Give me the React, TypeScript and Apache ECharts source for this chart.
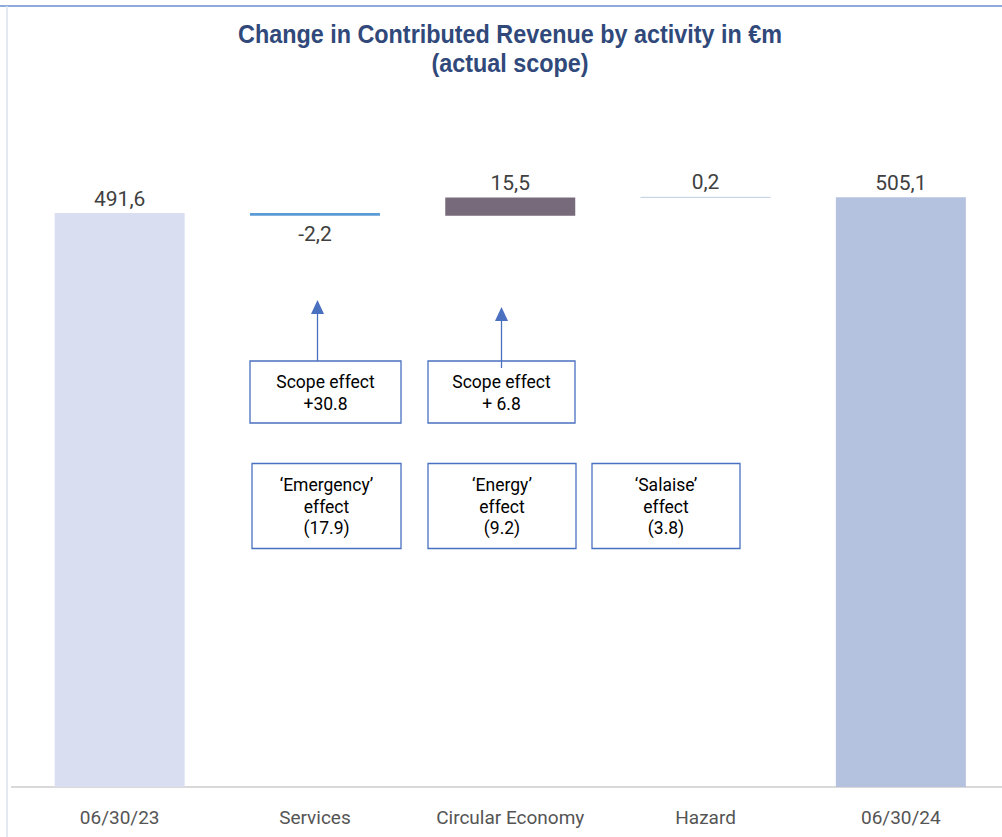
import React, { useEffect, useRef } from "react";
import * as echarts from "echarts";

const categories = ["06/30/23", "Services", "Circular Economy", "Hazard", "06/30/24"];
const deltas = [491.6, -2.2, 15.5, 0.2, 505.1];
const isTotal = [true, false, false, false, true];
const barColors = ["#d9dff0", "#5b9bd5", "#776a7a", "#c9d4e6", "#b4c2e0"];

const titleLines = ["Change in Contributed Revenue by activity in \u20acm", "(actual scope)"];

const scopeBoxes = [
  { lines: ["Scope effect", "+30.8"], x: 250, w: 151, arrowX: 317.5, tipY: 300, lineBottom: 361 },
  { lines: ["Scope effect", "+ 6.8"], x: 428, w: 147, arrowX: 501.5, tipY: 307, lineBottom: 368 },
];
const effectBoxes = [
  { lines: ["\u2018Emergency\u2019", "effect", "(17.9)"], x: 252, w: 149 },
  { lines: ["\u2018Energy\u2019", "effect", "(9.2)"], x: 428, w: 148 },
  { lines: ["\u2018Salaise\u2019", "effect", "(3.8)"], x: 592, w: 148 },
];

function fmt(v: number) {
  return v.toFixed(1).replace(".", ",");
}

export default function App() {
  const ref = useRef<HTMLDivElement>(null);
  useEffect(() => {
    if (!ref.current) return;
    const chart = echarts.init(ref.current, undefined, { renderer: "svg" });

    // waterfall bases
    const bases: number[] = [];
    const heights: number[] = [];
    let running = 0;
    deltas.forEach((d, i) => {
      if (isTotal[i]) {
        bases.push(0);
        heights.push(d);
        running = d;
      } else {
        const next = running + d;
        bases.push(Math.min(running, next));
        heights.push(Math.abs(d));
        running = next;
      }
    });

    const boxColor = "#4a70c0";
    const textFont = "Roboto, 'Noto Sans', sans-serif";
    const graphics: any[] = [
      { type: "line", shape: { x1: 0, y1: 6, x2: 1002, y2: 6 }, style: { stroke: "#8faadc", lineWidth: 2 } },
      { type: "line", shape: { x1: 7, y1: 6, x2: 7, y2: 837 }, style: { stroke: "#dde2ec", lineWidth: 1.5 } },
      { type: "line", shape: { x1: 11, y1: 787, x2: 1002, y2: 787 }, style: { stroke: "#d9d9d9", lineWidth: 2 } },
    ];
    titleLines.forEach((t, i) => {
      graphics.push({
        type: "text",
        x: 510,
        y: 34.5 + i * 29,
        scaleX: 0.935,
        style: {
          text: t,
          font: "bold 25px 'Liberation Sans', Arial, sans-serif",
          fill: "#30497a",
          align: "center",
          verticalAlign: "middle",
        },
      });
    });

    scopeBoxes.forEach((b) => {
      graphics.push({
        type: "rect",
        shape: { x: b.x, y: 361, width: b.w, height: 62 },
        style: { fill: "#fff", stroke: boxColor, lineWidth: 1.3 },
        z: 10,
      });
      graphics.push({
        type: "line",
        shape: { x1: b.arrowX, y1: b.lineBottom, x2: b.arrowX, y2: b.tipY + 10 },
        style: { stroke: boxColor, lineWidth: 1.3 },
        z: 11,
      });
      graphics.push({
        type: "polygon",
        shape: { points: [[b.arrowX, b.tipY], [b.arrowX - 6.5, b.tipY + 14], [b.arrowX + 6.5, b.tipY + 14]] },
        style: { fill: boxColor },
        z: 11,
      });
      b.lines.forEach((t, i) => {
        graphics.push({
          type: "text",
          x: b.x + b.w / 2,
          y: 382 + i * 22,
          style: { text: t, font: "17.5px " + textFont, fill: "#000", align: "center", verticalAlign: "middle" },
          z: 12,
        });
      });
    });

    effectBoxes.forEach((b) => {
      graphics.push({
        type: "rect",
        shape: { x: b.x, y: 463.5, width: b.w, height: 85 },
        style: { fill: "#fff", stroke: boxColor, lineWidth: 1.3 },
        z: 10,
      });
      b.lines.forEach((t, i) => {
        graphics.push({
          type: "text",
          x: b.x + b.w / 2,
          y: 485 + i * 21.7,
          style: { text: t, font: "17.5px " + textFont, fill: "#000", align: "center", verticalAlign: "middle" },
          z: 12,
        });
      });
    });

    chart.setOption({
      animation: false,
      grid: { left: 22, right: 3.5, top: 86.5, bottom: 50 },
      xAxis: {
        type: "category",
        data: categories,
        axisLine: { show: false },
        axisTick: { show: false },
        axisLabel: {
          color: "#555",
          fontSize: 19,
          fontFamily: textFont,
          margin: 21,
          interval: 0,
        },
      },
      yAxis: {
        type: "value",
        min: 0,
        max: 600,
        show: false,
        splitLine: { show: false },
      },
      series: [
        {
          type: "bar",
          stack: "w",
          data: bases,
          barWidth: 130,
          itemStyle: { color: "transparent" },
          silent: true,
        },
        {
          type: "bar",
          stack: "w",
          barWidth: 130,
          data: heights.map((h, i) => ({
            value: h,
            itemStyle: {
              color: barColors[i],
              borderColor: barColors[i],
              borderWidth: i === 1 ? 1.4 : i === 3 ? 1 : 0,
            },
            label: {
              show: true,
              position: deltas[i] < 0 ? "bottom" : "top",
              distance: deltas[i] < 0 ? 8 : 4,
              formatter: () => fmt(deltas[i]),
              color: "#404040",
              fontSize: 21,
              fontFamily: textFont,
            },
          })),
        },
      ],
      graphic: graphics,
    });
    return () => chart.dispose();
  }, []);
  return (
    <div
      ref={ref}
      style={{ position: "absolute", left: 0, top: 0, width: 1002, height: 837, background: "#fff" }}
    />
  );
}
